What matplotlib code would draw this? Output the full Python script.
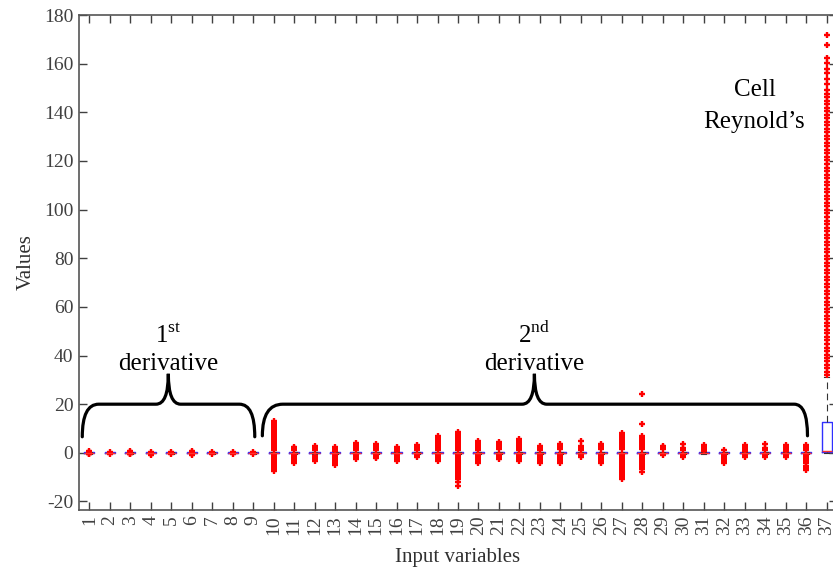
import matplotlib
matplotlib.use("Agg")
import matplotlib.pyplot as plt
from matplotlib.path import Path
from matplotlib.patches import PathPatch

plt.rcParams['font.family'] = ['Liberation Serif', 'DejaVu Serif']
plt.rcParams['mathtext.fontset'] = 'custom'
plt.rcParams['mathtext.rm'] = 'Liberation Serif'
plt.rcParams['axes.unicode_minus'] = False

# input variable indices
variables = list(range(1, 38))

# outliers for each input variable (values beyond the whiskers)
fliers = [
    [-0.6, -0.3, 0.3, 0.6],
    [-0.4, 0.4],
    [-0.6, -0.3, 0.3, 0.6],
    [-0.8, -0.4, 0.3],
    [-0.4, 0.4],
    [-0.7, -0.3, 0.3, 0.7],
    [-0.4, 0.4],
    [-0.4, 0.3],
    [-0.5, 0.4],
    [13.2, 12.4, 11.5, 10.8, 10.0, 9.1, 8.3, 7.6, 6.8, 6.0, 5.1, 4.3, 3.5, 2.7, 1.9, 1.1,
     -1.0, -1.8, -2.6, -3.4, -4.2, -5.0, -5.8, -6.6, -7.3],
    [2.6, 1.8, 1.0, -1.0, -1.8, -2.6, -3.3, -4.1],
    [2.8, 2.0, 1.2, -1.1, -1.9, -2.7, -3.5],
    [2.4, 1.6, 0.9, -1.0, -1.8, -2.6, -3.4, -4.2, -4.8],
    [4.2, 3.4, 2.6, 1.8, 1.0, -0.9, -1.7, -2.5],
    [3.6, 2.8, 2.0, 1.2, -0.9, -1.6, -2.3],
    [2.4, 1.6, 0.9, -1.0, -1.8, -2.6, -3.3],
    [3.4, 2.6, 1.8, 1.0, -0.9, -1.6],
    [6.8, 6.0, 5.2, 4.4, 3.6, 2.8, 2.0, 1.2, -1.0, -1.8, -2.6, -3.4],
    [8.4, 7.6, 6.8, 6.0, 5.2, 4.4, 3.6, 2.8, 2.0, 1.2, -1.0, -1.8, -2.6, -3.4, -4.2, -5.0,
     -5.8, -6.6, -7.4, -8.2, -9.0, -9.8, -10.8, -12.0, -13.6],
    [5.0, 4.2, 3.4, 2.6, 1.8, 1.0, -1.0, -1.8, -2.6, -3.4, -4.2],
    [4.6, 3.8, 3.0, 2.2, 1.4, -0.9, -1.7, -2.5],
    [5.8, 5.0, 4.2, 3.4, 2.6, 1.8, 1.0, -1.0, -1.8, -2.6, -3.5],
    [2.8, 2.0, 1.2, -1.0, -1.8, -2.6, -3.4, -4.0],
    [3.8, 3.0, 2.2, 1.4, -1.0, -1.8, -2.6, -3.4, -4.0],
    [4.8, 2.8, 2.0, 1.2, -0.9, -1.7],
    [3.8, 3.0, 2.2, 1.4, -1.0, -1.8, -2.6, -3.4, -4.0],
    [8.0, 7.2, 6.4, 5.6, 4.8, 4.0, 3.2, 2.4, 1.6, -1.0, -1.8, -2.6, -3.4, -4.2, -5.0, -5.8,
     -6.6, -7.4, -8.2, -9.0, -9.8, -10.8],
    [24.0, 11.8, 7.0, 6.2, 5.4, 4.6, 3.8, 3.0, 2.2, 1.4, -1.0, -1.8, -2.6, -3.4, -4.2, -5.0,
     -5.8, -6.6, -7.8],
    [3.0, 2.2, 1.4, -0.9],
    [3.8, 1.8, 1.0, -1.0, -1.7],
    [3.2, 2.4, 1.6, 0.8],
    [1.2, -1.0, -1.8, -2.6, -3.4, -4.0],
    [3.2, 2.4, 1.6, 0.8, -0.9, -1.6],
    [3.8, 1.8, 1.0, -1.0, -1.7],
    [3.2, 2.4, 1.6, 0.8, -1.0, -1.7],
    [3.4, 2.6, 1.8, 1.0, -1.0, -1.8, -2.6, -3.4, -4.2, -5.6, -6.4, -7.0],
    [31.8, 33.3, 34.7, 36.2, 37.6, 39.1, 40.4, 41.9, 43.3, 44.8, 46.2, 47.7, 49.1, 50.6,
     52.0, 53.5, 54.9, 56.4, 57.8, 59.3, 60.7, 62.2, 63.6, 65.1, 66.5, 68.0, 69.4, 70.9,
     72.3, 73.8, 75.2, 76.7, 78.1, 79.6, 81.0, 82.5, 83.9, 85.4, 86.8, 88.3, 89.7, 91.2,
     92.6, 94.1, 95.5, 97.0, 98.4, 99.9, 101.3, 102.8, 104.2, 105.7, 107.1, 108.6, 110.0,
     111.5, 112.9, 114.4, 115.8, 117.3, 118.7, 120.2, 121.6, 123.1, 124.5, 126.0, 127.4,
     128.9, 130.3, 131.8, 133.2, 134.7, 136.1, 137.6, 139.0, 140.5, 141.9, 143.4, 144.8,
     146.3, 147.7, 149.2, 151.5, 153.8, 156.2, 158.0, 160.1, 162.4, 167.5, 171.6],
]

# box statistics: median, quartiles, whisker ends
medians = [0.0] * 36 + [0.8]
q1 = [-0.15] * 36 + [0.2]
q3 = [0.15] * 36 + [12.8]
whisker_low = [-0.3] * 36 + [0.0]
whisker_high = [0.3] * 36 + [31.0]

y_ticks = [-20, 0, 20, 40, 60, 80, 100, 120, 140, 160, 180]

stats = []
for i in range(len(variables)):
    stats.append(dict(med=medians[i], q1=q1[i], q3=q3[i],
                      whislo=whisker_low[i], whishi=whisker_high[i],
                      fliers=fliers[i]))

fig = plt.figure(figsize=(8.33, 5.69), dpi=100)
ax = fig.add_axes([79 / 833, 59 / 569, 758 / 833, 495 / 569])

ax.bxp(stats, positions=variables, widths=0.5, showfliers=True,
       boxprops=dict(color='#3030ff', linewidth=1.0),
       medianprops=dict(color='#ff3030', linewidth=1.0),
       whiskerprops=dict(color='#333333', linewidth=0.8, linestyle=(0, (6, 4))),
       capprops=dict(color='#333333', linewidth=0.8),
       flierprops=dict(marker='+', markersize=4.5, markeredgecolor='red',
                       markeredgewidth=1.7, linestyle='none'))

ax.set_xlim(0.5, 37.5)
ax.set_ylim(-23.5, 180)
ax.set_xticks(variables)
ax.set_xticklabels([str(v) for v in variables], rotation=90)
ax.set_yticks(y_ticks)
ax.set_yticklabels([str(v) for v in y_ticks])

ax.tick_params(direction='in', top=True, right=True, length=6, width=1,
               colors='#404040', labelsize=14, pad=4)
for sp in ax.spines.values():
    sp.set_color('#555555')
    sp.set_linewidth(1.2)

ax.set_xlabel('Input variables', fontsize=15, color='#303030', labelpad=9)
ax.set_ylabel('Values', fontsize=15, color='#303030', labelpad=6)


def brace(x0, xc, x1, y_tip, y_bar, y_peak, r0, r1, rc):
    verts = [(x0, y_tip), (x0, y_bar), (x0 + r0, y_bar),
             (xc - rc, y_bar), (xc, y_bar), (xc, y_peak),
             (xc, y_bar), (xc + rc, y_bar),
             (x1 - r1, y_bar), (x1, y_bar), (x1, y_tip)]
    codes = [Path.MOVETO, Path.CURVE3, Path.CURVE3,
             Path.LINETO, Path.CURVE3, Path.CURVE3,
             Path.CURVE3, Path.CURVE3,
             Path.LINETO, Path.CURVE3, Path.CURVE3]
    ax.add_patch(PathPatch(Path(verts, codes), fill=False, color='black',
                           linewidth=2.3, capstyle='round', zorder=5))


brace(0.66, 4.86, 9.08, 6.6, 20, 32.5, 0.8, 0.75, 0.6)
brace(9.45, 22.73, 36.06, 7.0, 20, 32.5, 1.0, 0.65, 0.6)

ax.text(4.86, 45.3, r'1$^{\rm st}$', fontsize=18, ha='center', va='baseline')
ax.text(4.86, 34.0, 'derivative', fontsize=18, ha='center', va='baseline')
ax.text(22.73, 45.3, r'2$^{\rm nd}$', fontsize=18, ha='center', va='baseline')
ax.text(22.73, 34.0, 'derivative', fontsize=18, ha='center', va='baseline')
ax.text(33.47, 146.5, 'Cell', fontsize=18, ha='center', va='baseline')
ax.text(33.47, 133.7, 'Reynold\u2019s', fontsize=18, ha='center', va='baseline')

fig.savefig('out.png', dpi=100)
